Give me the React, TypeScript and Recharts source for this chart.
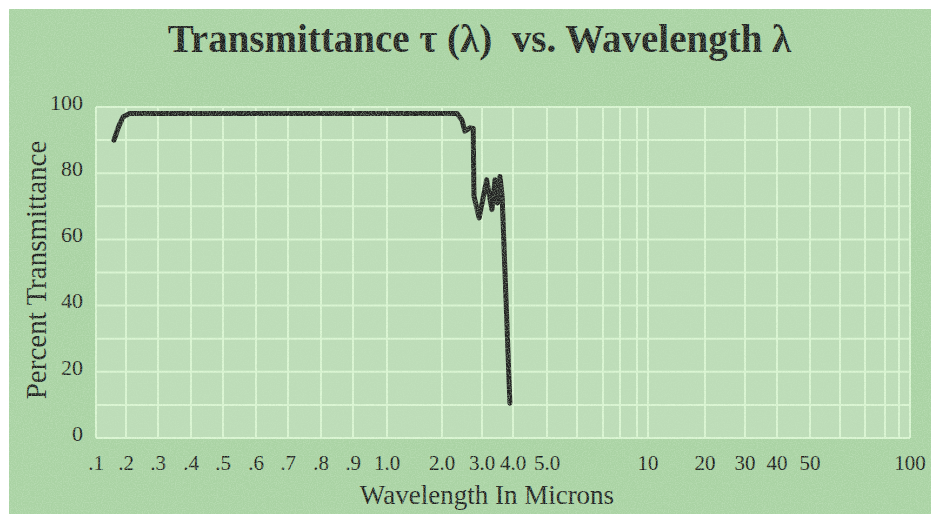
import React from "react";
import { LineChart, Line, XAxis, YAxis, CartesianGrid } from "recharts";

// measured curve (wavelength in microns, percent transmittance)
const wavelength = [0.16, 0.175, 0.19, 0.21, 2.38, 2.5, 2.57, 2.7, 2.78, 2.8, 2.93, 3.15, 3.32, 3.42, 3.5, 3.58, 3.65, 3.9];
const transmittance = [90, 94, 97, 98, 98, 96, 92.7, 93.7, 93.5, 73, 66.5, 78, 69, 78, 71, 79, 73, 10.5];

// the printed axis is not linear or log, so each gridline wavelength gets its own stop
const tickWavelengths = [0.1, 0.2, 0.3, 0.4, 0.5, 0.6, 0.7, 0.8, 0.9, 1, 2, 3, 4, 5, 6, 7, 8, 9, 10, 20, 30, 40, 50, 60, 70, 80, 90, 100];
const tickLabels = [".1", ".2", ".3", ".4", ".5", ".6", ".7", ".8", ".9", "1.0", "2.0", "3.0", "4.0", "5.0", "", "", "", "", "10", "20", "30", "40", "50", "", "", "", "", "100"];
const tickStops = [0, 30, 62, 95, 127, 160, 192, 225, 257, 291, 346, 386, 417, 451, 481, 507, 524, 541, 552, 609, 649, 681, 714, 744, 769, 789, 803, 814];

const yTicks = [0, 10, 20, 30, 40, 50, 60, 70, 80, 90, 100];

const toAxis = (w: number) => {
  for (let i = 0; i < tickWavelengths.length - 1; i++) {
    const a = tickWavelengths[i];
    const b = tickWavelengths[i + 1];
    if (w >= a && w <= b) {
      return tickStops[i] + ((w - a) / (b - a)) * (tickStops[i + 1] - tickStops[i]);
    }
  }
  return tickStops[tickStops.length - 1];
};

const data = wavelength.map((w, i) => ({ x: toAxis(w), t: transmittance[i] }));

const FONT = "'Liberation Serif', 'DejaVu Serif', serif";
const INK = "#1c1c1c";

const YTick = (props: any) => {
  const { x, y, payload } = props;
  if (payload.value % 20 !== 0) return null;
  return (
    <text x={x} y={y - 5} dy="0.355em" textAnchor="end" fontFamily={FONT} fontSize={22} fill={INK}>
      {payload.value}
    </text>
  );
};

const XTick = (props: any) => {
  const { x, y, payload } = props;
  const idx = tickStops.indexOf(payload.value);
  const label = idx >= 0 ? tickLabels[idx] : "";
  if (!label) return null;
  return (
    <text x={x} y={y} dy="0.71em" textAnchor="middle" fontFamily={FONT} fontSize={21} fill={INK}>
      {label}
    </text>
  );
};

export default function App() {
  return (
    <div style={{ position: "absolute", left: 0, top: 0, width: 931, height: 514, background: "#ffffff", overflow: "hidden" }}>
      <div style={{ position: "absolute", left: 9, top: 9, right: 0, bottom: 0, background: "#aad3a4" }} />
      <div
        style={{
          position: "absolute",
          left: 0,
          width: 931,
          top: 16,
          textAlign: "center",
          paddingLeft: 28,
          boxSizing: "border-box",
          fontFamily: FONT,
          fontWeight: "bold",
          fontSize: 39,
          color: INK,
          whiteSpace: "pre",
        }}
      >
        {"Transmittance \u03c4 (\u03bb)  vs. Wavelength \u03bb"}
      </div>
      <div
        style={{
          position: "absolute",
          left: 36,
          top: 270,
          transform: "translate(-50%, -50%) rotate(-90deg)",
          fontFamily: FONT,
          fontSize: 29,
          color: INK,
          whiteSpace: "nowrap",
        }}
      >
        Percent Transmittance
      </div>
      <div
        style={{
          position: "absolute",
          left: 487,
          top: 481,
          transform: "translateX(-50%)",
          fontFamily: FONT,
          fontSize: 27,
          lineHeight: "28px",
          color: INK,
          whiteSpace: "nowrap",
        }}
      >
        Wavelength In Microns
      </div>
      <div style={{ position: "absolute", left: 0, top: 0 }}>
        <LineChart width={931} height={514} data={data} margin={{ top: 107, right: 21, bottom: 36, left: 36 }}>
          <CartesianGrid
            stroke="#dcf6d4"
            strokeWidth={2}
            fill="#bddcb8"
            fillOpacity={1}
            horizontal
            vertical
          />
          <XAxis
            type="number"
            dataKey="x"
            domain={[0, 814]}
            ticks={tickStops}
            interval={0}
            axisLine={false}
            tickLine={false}
            tickSize={0}
            tickMargin={17}
            height={40}
            tick={<XTick />}
            allowDataOverflow
          />
          <YAxis
            type="number"
            domain={[0, 100]}
            ticks={yTicks}
            interval={0}
            axisLine={false}
            tickLine={false}
            tickSize={0}
            tickMargin={13}
            width={60}
            tick={<YTick />}
          />
          <Line
            type="linear"
            dataKey="t"
            stroke="#202020"
            strokeWidth={5}
            strokeLinejoin="round"
            strokeLinecap="round"
            dot={false}
            isAnimationActive={false}
          />
        </LineChart>
      </div>
      {/* speckled paper texture like the scanned original */}
      <svg width={931} height={514} style={{ position: "absolute", left: 0, top: 0, pointerEvents: "none" }}>
        <filter id="speckle" x="0" y="0" width="100%" height="100%">
          <feTurbulence type="fractalNoise" baseFrequency="0.85" numOctaves={2} seed={7} />
          <feColorMatrix
            type="matrix"
            values="0 0 0 0 0.55  0 0 0 0 0.77  0 0 0 0 0.52  0 0 0 -3 1.75"
          />
        </filter>
        <rect x={9} y={9} width={922} height={505} filter="url(#speckle)" opacity={0.45} />
      </svg>
    </div>
  );
}
